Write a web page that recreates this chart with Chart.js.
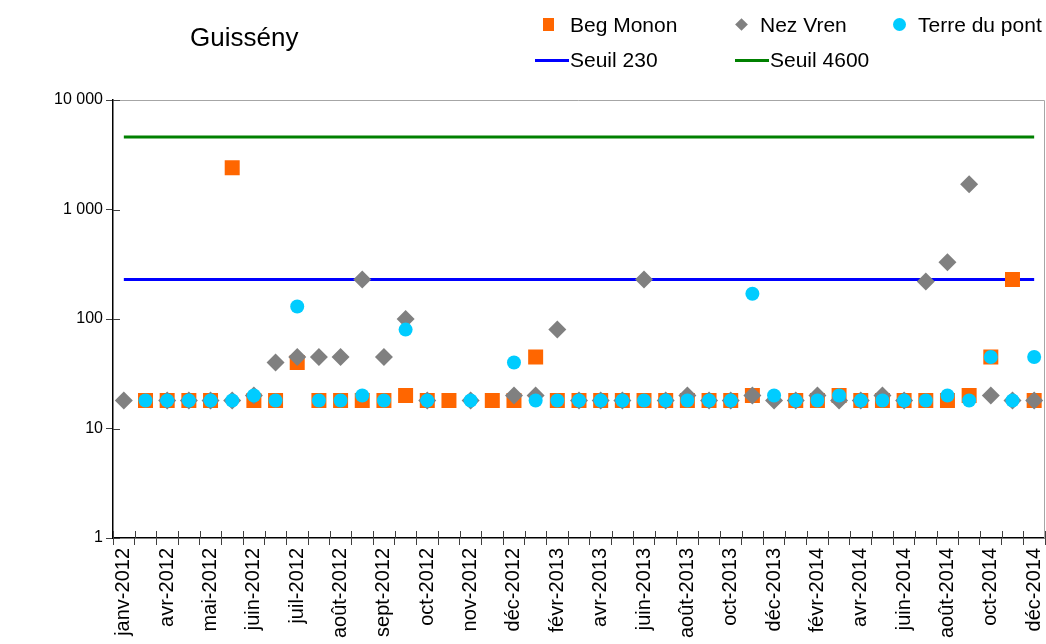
<!DOCTYPE html>
<html>
<head>
<meta charset="utf-8">
<script src="https://cdn.jsdelivr.net/npm/chart.js@4/dist/chart.umd.min.js"></script>
<style>
  body { margin: 0; background: #fff; overflow: hidden; font-family: "Liberation Sans", Arial, sans-serif; color: #000; }
  #wrap { position: absolute; left: 0; top: 0; width: 1046px; height: 644px; }
  #title { position: absolute; left: 190px; top: 22px; font-size: 26px; }
  .leg { position: absolute; font-size: 21px; line-height: 22px; white-space: nowrap; }
  .mk { position: absolute; }
</style>
</head>
<body>
<div id="wrap"><canvas id="chart"></canvas></div>
<div id="title">Guissény</div>
<div id="legend"></div>
<script>
// tick labels shown on every second sampling date
const tickLabels = [
	'janv-2012', 'avr-2012', 'mai-2012', 'juin-2012', 'juil-2012', 'août-2012', 'sept-2012', 'oct-2012',
	'nov-2012', 'déc-2012', 'févr-2013', 'avr-2013', 'juin-2013', 'août-2013', 'oct-2013', 'déc-2013',
	'févr-2014', 'avr-2014', 'juin-2014', 'août-2014', 'oct-2014', 'déc-2014'
];
const categories = [];
for (let i = 0; i < 43; i++) {
	categories.push(i % 2 === 0 ? tickLabels[i / 2] : '');
}

const begMonon = [
	null, 18, 18, 18, 18, 2400, 18, 18, 40, 18, 18, 18, 18, 20, 18, 18, null, 18, 18, 45, 18, 18,
	18, 18, 18, 18, 18, 18, 18, 20, null, 18, 18, 20, 18, 18, 18, 18, 18, 20, 45, 230, 18
];
const nezVren = [
	18, null, 18, 18, 18, 18, 20, 40, 45, 45, 45, 230, 45, 100, 18, null, 18, null, 20, 20, 80, 18,
	18, 18, 230, 18, 20, 18, 18, 20, 18, 18, 20, 18, 18, 20, 18, 220, 330, 1700, 20, 18, 18
];
const terreDuPont = [
	null, 18, 18, 18, 18, 18, 20, 18, 130, 18, 18, 20, 18, 80, 18, null, 18, null, 40, 18, 18, 18,
	18, 18, 18, 18, 18, 18, 18, 170, 20, 18, 18, 20, 18, 18, 18, 18, 20, 18, 45, 18, 45
];
const seuil230 = 230;
const seuil4600 = 4600;
const yTicks = [1, 10, 100, 1000, 10000];

// LEGEND (html, laid out like the original)
const legend = document.getElementById('legend');
function addLegend(html, left, top) {
	const d = document.createElement('div');
	d.className = 'leg';
	d.style.left = left + 'px';
	d.style.top = top + 'px';
	d.innerHTML = html;
	legend.appendChild(d);
}
addLegend('<span class="mk" style="left:-27px;top:4px;width:11px;height:13px;background:#ff6600"></span>Beg Monon', 570, 14);
addLegend('<span class="mk" style="left:-23px;top:6px;width:9px;height:9px;background:#808080;transform:rotate(45deg)"></span>Nez Vren', 760, 14);
addLegend('<span class="mk" style="left:-25px;top:4px;width:13px;height:13px;border-radius:50%;background:#00ccff"></span>Terre du pont', 918, 14);
addLegend('<span class="mk" style="left:-35px;top:10px;width:34px;height:3px;background:#0000ff"></span>Seuil 230', 570, 49);
addLegend('<span class="mk" style="left:-35px;top:10px;width:34px;height:3px;background:#008000"></span>Seuil 4600', 770, 49);

// grey frame + inner half of tick marks
const framePlugin = {
	id: 'frame',
	beforeDatasetsDraw(chart) {
		const a = chart.chartArea;
		const ctx = chart.ctx;
		ctx.save();
		ctx.strokeStyle = '#a6a6a6';
		ctx.lineWidth = 1;
		ctx.beginPath();
		ctx.moveTo(a.left, a.top + 0.5);
		ctx.lineTo(a.right - 0.5, a.top + 0.5);
		ctx.lineTo(a.right - 0.5, a.bottom);
		ctx.stroke();
		ctx.restore();
	},
	afterDraw(chart) {
		const a = chart.chartArea;
		const ctx = chart.ctx;
		const y = chart.scales.y;
		ctx.save();
		ctx.strokeStyle = '#404040';
		ctx.lineWidth = 1;
		ctx.beginPath();
		yTicks.forEach(v => {
			const py = Math.round(y.getPixelForValue(v)) + 0.5;
			ctx.moveTo(a.left, py);
			ctx.lineTo(a.left + 7, py);
		});
		const w = (a.right - a.left) / categories.length;
		for (let i = 0; i <= categories.length; i++) {
			const px = Math.round(a.left + i * w) + 0.5;
			ctx.moveTo(px, a.bottom);
			ctx.lineTo(px, a.bottom - 7);
		}
		ctx.stroke();
		ctx.restore();
	}
};

function fmt(v) {
	return String(v).replace(/\B(?=(\d{3})+(?!\d))/g, ' ');
}

const ctx = document.getElementById('chart').getContext('2d');
new Chart(ctx, {
	type: 'line',
	data: {
		labels: categories,
		datasets: [
			{
				label: 'Beg Monon',
				data: begMonon,
				showLine: false,
				pointStyle: 'rect',
				pointRadius: 10.6,
				backgroundColor: '#ff6600',
				borderColor: '#ff6600',
				borderWidth: 0,
				order: 3
			},
			{
				label: 'Nez Vren',
				data: nezVren,
				showLine: false,
				pointStyle: 'rectRot',
				pointRadius: 9,
				backgroundColor: '#808080',
				borderColor: '#808080',
				borderWidth: 0,
				order: 2
			},
			{
				label: 'Terre du pont',
				data: terreDuPont,
				showLine: false,
				pointStyle: 'circle',
				pointRadius: 7,
				backgroundColor: '#00ccff',
				borderColor: '#00ccff',
				borderWidth: 0,
				order: 1
			},
			{
				label: 'Seuil 230',
				data: categories.map(() => seuil230),
				borderColor: '#0000ff',
				borderWidth: 3,
				pointRadius: 0,
				order: 5
			},
			{
				label: 'Seuil 4600',
				data: categories.map(() => seuil4600),
				borderColor: '#008000',
				borderWidth: 3,
				pointRadius: 0,
				order: 5
			}
		]
	},
	options: {
		responsive: true,
		maintainAspectRatio: false,
		animation: false,
		layout: { autoPadding: false, padding: { top: 100, right: 1, left: 0, bottom: 0 } },
		plugins: {
			legend: { display: false },
			title: { display: false },
			tooltip: { enabled: false }
		},
		scales: {
			x: {
				offset: true,
				grid: { offset: true, drawOnChartArea: false, tickLength: 7, color: '#404040' },
				border: { color: '#000', width: 1.5 },
				ticks: {
					autoSkip: false,
					maxRotation: 90,
					minRotation: 90,
					padding: 3,
					color: '#000',
					font: { family: 'Liberation Sans', size: 20 }
				},
				afterFit(scale) {
					scale.height = 106;
					scale.paddingLeft = 0;
					scale.paddingRight = 0;
				}
			},
			y: {
				type: 'logarithmic',
				min: 1,
				max: 10000,
				grid: { drawOnChartArea: false, tickLength: 7, color: '#404040' },
				border: { color: '#000', width: 1.5 },
				afterBuildTicks(scale) {
					scale.ticks = yTicks.map(v => ({ value: v }));
				},
				ticks: {
					padding: 3,
					color: '#000',
					font: { family: 'Liberation Sans', size: 16 },
					callback: v => fmt(v)
				},
				afterFit(scale) {
					scale.width = 113;
					scale.paddingTop = 0;
					scale.paddingBottom = 0;
				}
			}
		}
	},
	plugins: [framePlugin]
});
</script>
</body>
</html>
